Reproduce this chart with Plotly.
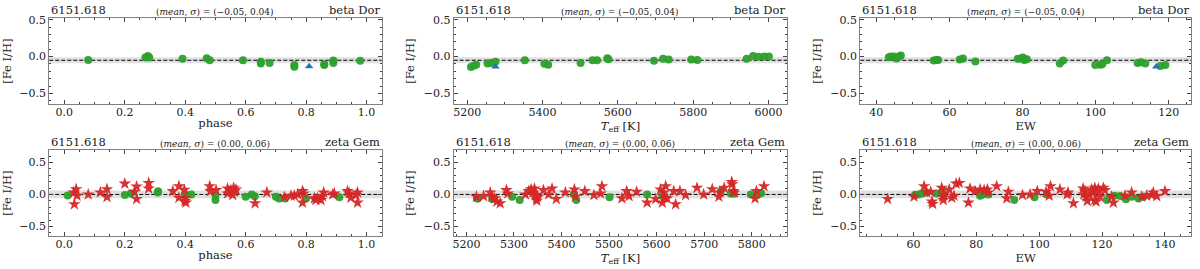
import plotly.graph_objects as go

# ---------------- data ----------------
# beta Dor (top row)
bd_phase_green_x = [0.079, 0.268, 0.276, 0.281, 0.391, 0.471, 0.481, 0.591, 0.650, 0.650, 0.679,
                    0.761, 0.761, 0.860, 0.860, 0.890, 0.890, 0.979]
bd_phase_green_y = [-0.045, -0.013, 0.009, -0.013, -0.031, -0.022, -0.049, -0.049, -0.071, -0.094, -0.089,
                    -0.116, -0.138, -0.103, -0.116, -0.054, -0.089, -0.058]
bd_phase_tri_x = [0.810]
bd_phase_tri_y = [-0.134]

bd_teff_green_x = [5210, 5217, 5224, 5254, 5263, 5275, 5353, 5405, 5415, 5501, 5533, 5545, 5572, 5575,
                   5696, 5720, 5735, 5795, 5811, 5942, 5959, 5973, 5988, 6001]
bd_teff_green_y = [-0.143, -0.125, -0.112, -0.094, -0.089, -0.071, -0.049, -0.098, -0.112, -0.089, -0.049,
                   -0.049, -0.022, -0.036, -0.058, -0.031, -0.040, -0.040, -0.045, -0.031, 0.009, -0.004,
                   0.0, 0.0]
bd_teff_tri_x = [5275]
bd_teff_tri_y = [-0.138]

bd_ew_green_x = [43.4, 44.0, 44.9, 45.5, 46.4, 46.7, 55.7, 56.4, 56.9, 62.8, 63.7, 67.1, 78.7, 79.6, 80.1,
                 80.5, 81.2, 90.2, 91.1, 99.9, 101.3, 101.8, 103.1, 111.5, 112.4, 113.6, 117.7, 119.1]
bd_ew_green_y = [-0.009, 0.0, 0.0, -0.027, 0.004, 0.013, -0.054, -0.045, -0.045, -0.040, -0.027, -0.067,
                 -0.031, -0.027, -0.013, -0.045, -0.036, -0.094, -0.054, -0.116, -0.112, -0.103, -0.049,
                 -0.089, -0.076, -0.094, -0.129, -0.116]
bd_ew_tri_x = [116.6]
bd_ew_tri_y = [-0.138]

# zeta Gem (bottom row)
zg_phase_green_x = [0.011, 0.200, 0.220, 0.309, 0.310, 0.400, 0.420, 0.500, 0.500, 0.600, 0.620, 0.630,
                    0.700, 0.710, 0.730, 0.800, 0.910]
zg_phase_green_y = [-0.015, -0.010, 0.015, 0.030, 0.050, 0.000, 0.000, -0.015, -0.087, -0.036, 0.000,
                    -0.030, -0.036, -0.062, -0.062, -0.062, -0.046]
zg_phase_star_x = [0.031, 0.033, 0.039, 0.042, 0.079, 0.119, 0.141, 0.141, 0.200, 0.232, 0.239, 0.239,
                   0.279, 0.279, 0.359, 0.379, 0.379, 0.397, 0.399, 0.400, 0.402, 0.481, 0.483, 0.502,
                   0.540, 0.540, 0.551, 0.557, 0.560, 0.562, 0.568, 0.631, 0.670, 0.728, 0.750, 0.761,
                   0.772, 0.788, 0.788, 0.792, 0.827, 0.832, 0.838, 0.849, 0.854, 0.858, 0.888, 0.893,
                   0.937, 0.943, 0.948, 0.965, 0.970, 0.970]
zg_phase_star_y = [0.031, -0.154, 0.082, -0.020, 0.000, 0.031, 0.082, -0.041, 0.169, 0.041, 0.123, -0.072,
                   0.179, 0.092, 0.051, 0.128, -0.051, 0.072, -0.103, -0.062, -0.128, 0.128, 0.051, 0.067,
                   0.092, 0.015, 0.067, -0.010, 0.103, 0.041, 0.077, -0.138, 0.031, -0.041, -0.020, -0.020,
                   0.000, 0.051, -0.128, 0.015, -0.062, -0.087, -0.062, -0.087, -0.026, 0.031, 0.000, 0.015,
                   0.051, 0.015, -0.051, -0.010, 0.031, -0.128]

zg_teff_green_x = [5222, 5224, 5254, 5296, 5312, 5426, 5431, 5501, 5580, 5612, 5735, 5756, 5763, 5798,
                   5812, 5820]
zg_teff_green_y = [-0.062, -0.062, -0.072, -0.036, -0.087, 0.000, -0.087, -0.046, 0.000, -0.026, 0.051,
                   0.015, 0.010, 0.000, -0.010, 0.020]
zg_teff_star_x = [5221, 5236, 5250, 5254, 5259, 5264, 5271, 5284, 5287, 5324, 5331, 5336, 5340, 5343,
                  5345, 5347, 5348, 5350, 5362, 5373, 5380, 5389, 5408, 5427, 5429, 5449, 5468, 5482,
                  5485, 5527, 5537, 5542, 5558, 5580, 5598, 5608, 5612, 5615, 5617, 5619, 5622, 5636,
                  5640, 5649, 5661, 5685, 5699, 5717, 5731, 5733, 5742, 5758, 5759, 5761, 5763, 5807,
                  5810, 5826]
zg_teff_star_y = [-0.036, -0.026, 0.031, -0.036, -0.062, -0.113, -0.138, 0.067, 0.015, 0.000, 0.051,
                  0.082, 0.031, 0.092, -0.010, -0.062, -0.097, -0.036, 0.067, 0.000, 0.092, -0.072,
                  0.031, 0.077, -0.036, 0.051, -0.010, 0.015, 0.128, -0.062, 0.051, -0.026, 0.041,
                  -0.128, -0.072, 0.077, -0.128, 0.031, -0.051, 0.128, -0.062, 0.051, -0.154, 0.051,
                  -0.010, 0.103, 0.000, 0.082, -0.036, 0.031, 0.103, 0.195, 0.159, 0.051, 0.031,
                  -0.062, 0.051, 0.128]

zg_ew_green_x = [60.5, 61.6, 62.6, 64.0, 67.4, 69.3, 81.2, 81.7, 83.8, 92.1, 98.5, 102.4, 121.5, 124.0,
                 125.8, 127.6, 129.5, 131.6, 133.2]
zg_ew_green_y = [-0.010, 0.000, 0.015, 0.031, 0.015, 0.051, -0.020, -0.010, 0.000, -0.087, -0.046, 0.000,
                 -0.087, -0.020, -0.026, -0.077, -0.036, -0.062, -0.036]
zg_ew_star_x = [51.8, 60.2, 63.4, 64.2, 65.5, 65.9, 66.1, 69.0, 69.3, 69.5, 69.7, 71.4, 72.2, 72.9, 73.6,
                74.6, 77.5, 78.0, 79.6, 81.2, 82.5, 83.5, 83.8, 86.5, 90.2, 89.7, 94.7, 97.1, 99.4,
                102.2, 103.2, 103.6, 106.6, 108.9, 109.2, 110.9, 114.0, 114.2, 114.6, 114.9, 115.3,
                116.0, 116.7, 117.2, 117.7, 117.7, 118.1, 118.3, 118.8, 119.3, 120.4, 120.9, 123.0,
                123.6, 127.3, 129.4, 132.6, 134.2, 135.8, 136.3, 137.4, 140.0]
zg_ew_star_y = [-0.072, -0.036, 0.128, 0.031, 0.041, -0.113, -0.149, 0.103, -0.036, -0.087, 0.000, 0.077,
                -0.051, -0.020, 0.169, 0.179, -0.128, 0.092, 0.051, 0.077, 0.067, 0.077, 0.031, 0.128,
                0.041, -0.062, -0.010, 0.000, 0.051, 0.041, -0.020, 0.128, 0.077, 0.000, 0.031, -0.138,
                0.092, 0.000, 0.051, -0.036, -0.103, -0.010, 0.077, 0.031, 0.103, -0.087, -0.113,
                0.041, 0.092, -0.036, 0.103, 0.067, -0.036, -0.128, -0.020, 0.031, -0.036, -0.020,
                -0.010, 0.031, -0.026, 0.051]

line_label = "6151.618"
stars = ["beta Dor", "zeta Gem"]
stats = [(-0.05, 0.04), (0.00, 0.06)]

# ---------------- layout ----------------
W, H = 1200, 269
FONT = "DejaVu Serif"
GREEN, RED, BLUE = "#2ca02c", "#d62728", "#1f77b4"
FRAME = "#808080"


def xd(a, b):
    return (a / W, b / W)


def yd(top, bot):
    return (1 - bot / H, 1 - top / H)


xdomains = [xd(48.3, 381), xd(453, 787), xd(860, 1191)]
ydomains = [yd(14, 102), yd(148, 236)]
yranges = [(-0.651, 0.527), (-0.657, 0.697)]
xranges = [[(-0.05, 1.05), (5164, 6050), (35.6, 126.1)],
           [(-0.05, 1.05), (5173, 5875), (43.1, 148.3)]]
xdt = [[(0.2, 0.05), (200, 50), (20, 5)], [(0.2, 0.05), (100, 20), (20, 5)]]
xtitles = ["phase", "<i>T</i><sub>eff</sub> [K]", "EW"]

panels = [
    [(bd_phase_green_x, bd_phase_green_y, bd_phase_tri_x, bd_phase_tri_y),
     (bd_teff_green_x, bd_teff_green_y, bd_teff_tri_x, bd_teff_tri_y),
     (bd_ew_green_x, bd_ew_green_y, bd_ew_tri_x, bd_ew_tri_y)],
    [(zg_phase_green_x, zg_phase_green_y, zg_phase_star_x, zg_phase_star_y),
     (zg_teff_green_x, zg_teff_green_y, zg_teff_star_x, zg_teff_star_y),
     (zg_ew_green_x, zg_ew_green_y, zg_ew_star_x, zg_ew_star_y)],
]

fig = go.Figure()
layout = dict(width=W, height=H, margin=dict(l=0, r=0, t=0, b=0),
              plot_bgcolor="white", paper_bgcolor="white", showlegend=False,
              font=dict(family=FONT, size=11, color="#222"))
shapes, annotations = [], []

k = 0
for r in range(2):
    mean, sig = stats[r]
    for c in range(3):
        k += 1
        xa = "xaxis" if k == 1 else f"xaxis{k}"
        ya = "yaxis" if k == 1 else f"yaxis{k}"
        xr = "x" if k == 1 else f"x{k}"
        yr = "y" if k == 1 else f"y{k}"
        gx, gy, ox, oy = panels[r][c]
        dt, mdt = xdt[r][c]
        layout[xa] = dict(domain=list(xdomains[c]), anchor=yr, range=list(xranges[r][c]),
                          showgrid=False, zeroline=False, showline=True, linecolor=FRAME, linewidth=1,
                          mirror="allticks", ticks="inside", ticklen=4, tickcolor="#444", dtick=dt,
                          tick0=0, minor=dict(ticks="inside", ticklen=2, dtick=mdt, tickcolor="#444"),
                          tickfont=dict(size=11, family=FONT, color="#222"), ticklabelstandoff=-3,
                          title=dict(text=xtitles[c], font=dict(size=11.5, family=FONT, color="#222"),
                                     standoff=1))
        if c == 0:
            layout[xa]["tickformat"] = ".1f"
        layout[ya] = dict(domain=list(ydomains[r]), anchor=xr, range=list(yranges[r]),
                          showgrid=False, zeroline=False, showline=True, linecolor=FRAME, linewidth=1,
                          mirror="allticks", ticks="inside", ticklen=4, tickcolor="#444",
                          tickvals=[-0.5, 0.0, 0.5], ticktext=["\u22120.5", "0.0", "0.5"],
                          minor=dict(ticks="inside", ticklen=2, tickvals=[-0.6, -0.4, -0.3, -0.2, -0.1,
                                                                           0.1, 0.2, 0.3, 0.4, 0.6],
                                     tickcolor="#444"),
                          tickfont=dict(size=11, family=FONT, color="#222"),
                          title=dict(text="[Fe I/H]", font=dict(size=11.5, family=FONT, color="#222"),
                                     standoff=6))
        # band and mean line
        shapes.append(dict(type="rect", xref=f"{xr} domain", yref=yr, x0=0, x1=1,
                           y0=mean - sig, y1=mean + sig, fillcolor="#d3d3d3", opacity=0.7,
                           line=dict(width=0), layer="below"))
        shapes.append(dict(type="line", xref=f"{xr} domain", yref=yr, x0=0, x1=1,
                           y0=mean, y1=mean, line=dict(color="black", width=1, dash="4px,2px"),
                           layer="below"))
        # markers
        fig.add_trace(go.Scatter(x=gx, y=gy, mode="markers", xaxis=xr, yaxis=yr,
                                 marker=dict(symbol="circle", size=8, color=GREEN, opacity=0.95,
                                             line=dict(width=0))))
        if r == 0:
            fig.add_trace(go.Scatter(x=ox, y=oy, mode="markers", xaxis=xr, yaxis=yr,
                                     marker=dict(symbol="triangle-up", size=7.5, color=BLUE,
                                                 line=dict(width=0))))
        else:
            fig.add_trace(go.Scatter(x=ox, y=oy, mode="markers", xaxis=xr, yaxis=yr,
                                     marker=dict(symbol="star", size=9.5, color=RED, opacity=0.95,
                                                 line=dict(width=0))))
        # panel texts
        annotations.append(dict(text=line_label, xref=f"{xr} domain", yref=f"{yr} domain", x=0, y=1,
                                xanchor="left", yanchor="bottom", yshift=-1, showarrow=False,
                                font=dict(size=11.5, family=FONT, color="#222")))
        annotations.append(dict(text=stars[r], xref=f"{xr} domain", yref=f"{yr} domain", x=1, y=1,
                                xanchor="right", yanchor="bottom", yshift=-1, showarrow=False,
                                font=dict(size=11.5, family=FONT, color="#222")))
        stat_txt = "(<i>mean</i>, <i>\u03c3</i>) = ({}, {})".format(
            f"{mean:.2f}".replace("-", "\u2212"), f"{sig:.2f}")
        annotations.append(dict(text=stat_txt, xref=f"{xr} domain", yref=f"{yr} domain", x=0.5, y=1,
                                xanchor="center", yanchor="bottom", yshift=-1, showarrow=False,
                                font=dict(size=9, family=FONT, color="#222")))

layout["shapes"] = shapes
layout["annotations"] = annotations
fig.update_layout(**layout)
# remove the browser's default 8 px page margin so the figure fills the window exactly
fig.write_html("out.html", config={"displayModeBar": False},
               post_script="document.body.style.margin='0px';")
